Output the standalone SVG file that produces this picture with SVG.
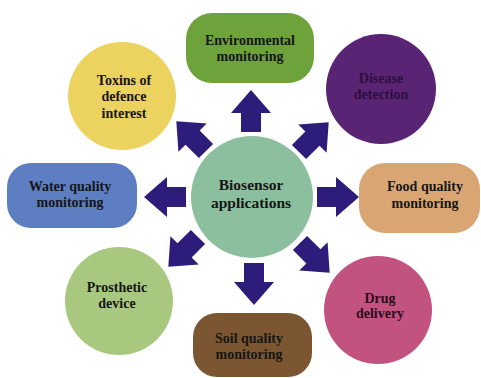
<svg xmlns="http://www.w3.org/2000/svg" width="481" height="378" viewBox="0 0 481 378">
  <defs>
    <style>
      .lbl { font-family: "Liberation Serif", "Times New Roman", serif; font-weight: bold; font-size: 14px; fill: #161616; text-anchor: middle; }
      .big { font-size: 15.5px; }
      .arrow { fill: #2e1c7a; }
    </style>
    <!-- block arrow pointing along +x, base at origin -->
    <path id="blk" d="M0,-10 H19 V-20 L42,0 L19,20 V10 H0 Z"/>
  </defs>
  <rect width="481" height="378" fill="#ffffff"/>

  <g id="connectors" class="arrow">
    <use href="#blk" transform="translate(251,132) rotate(-90)"/>
    <use href="#blk" transform="translate(299,152) rotate(-45)"/>
    <use href="#blk" transform="translate(317,197)"/>
    <use href="#blk" transform="translate(300,243) rotate(45)"/>
    <use href="#blk" transform="translate(254,263) rotate(90)"/>
    <use href="#blk" transform="translate(198,237) rotate(135)"/>
    <use href="#blk" transform="translate(186,197) rotate(180)"/>
    <use href="#blk" transform="translate(206,151) rotate(-135)"/>
  </g>

  <g id="center">
    <circle cx="252" cy="197" r="61" fill="#8bbf9e"/>
    <text class="lbl big" x="251" y="190">Biosensor</text>
    <text class="lbl big" x="251" y="208">applications</text>
  </g>

  <g id="environmental">
    <rect x="186" y="13" width="128" height="70" rx="26" fill="#6ea23a"/>
    <text class="lbl" x="250" y="45">Environmental</text>
    <text class="lbl" x="250" y="61">monitoring</text>
  </g>

  <g id="disease">
    <circle cx="381" cy="89" r="55" fill="#5a2475"/>
    <text class="lbl" x="381" y="83" style="fill:#2c0f3e">Disease</text>
    <text class="lbl" x="381" y="99" style="fill:#2c0f3e">detection</text>
  </g>

  <g id="food">
    <rect x="359" y="163" width="121" height="70" rx="26" fill="#d9a673"/>
    <text class="lbl" x="425" y="191">Food quality</text>
    <text class="lbl" x="425" y="208">monitoring</text>
  </g>

  <g id="drug">
    <circle cx="378" cy="310" r="54" fill="#c2527f"/>
    <text class="lbl" x="380" y="303" style="fill:#2e0d20">Drug</text>
    <text class="lbl" x="380" y="318" style="fill:#2e0d20">delivery</text>
  </g>

  <g id="soil">
    <rect x="193" y="313" width="119" height="64" rx="24" fill="#7b5630"/>
    <text class="lbl" x="249" y="343">Soil quality</text>
    <text class="lbl" x="249" y="359">monitoring</text>
  </g>

  <g id="prosthetic">
    <circle cx="119" cy="301" r="54" fill="#a8c880"/>
    <text class="lbl" x="117" y="292">Prosthetic</text>
    <text class="lbl" x="117" y="308">device</text>
  </g>

  <g id="water">
    <rect x="7" y="163" width="130" height="65" rx="24" fill="#5d7ec2"/>
    <text class="lbl" x="70" y="191">Water quality</text>
    <text class="lbl" x="70" y="207">monitoring</text>
  </g>

  <g id="toxins">
    <circle cx="122" cy="96" r="54" fill="#ecd25e"/>
    <text class="lbl" x="124" y="85">Toxins of</text>
    <text class="lbl" x="124" y="101">defence</text>
    <text class="lbl" x="124" y="118">interest</text>
  </g>
</svg>
